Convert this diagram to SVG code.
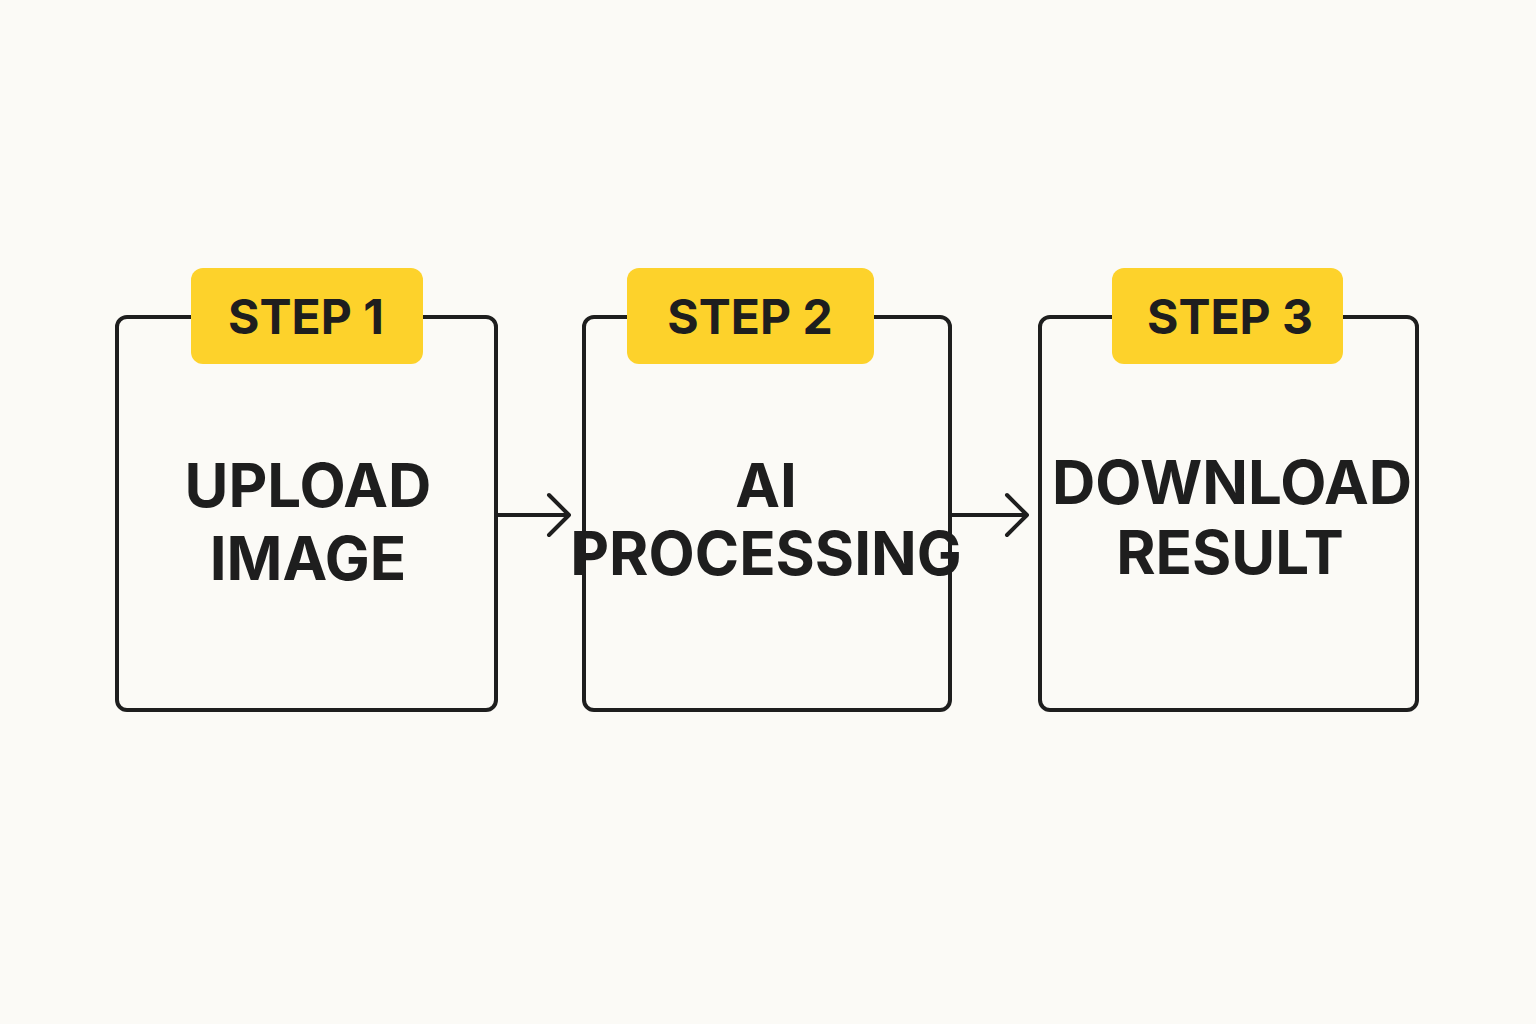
<svg xmlns="http://www.w3.org/2000/svg" width="1536" height="1024" viewBox="0 0 1536 1024">
<style>
.box{fill:#fbfaf6;stroke:#1e1e1e;stroke-width:4}
.tag{fill:#fdd22b}
.t{font-family:Inter,"Liberation Sans",sans-serif;font-weight:700;fill:#1e1e1e;text-anchor:middle}
.tg{font-size:48px}
.m{font-size:60px}
.c{stroke:#1e1e1e;stroke-width:4;fill:none;stroke-linecap:round;stroke-linejoin:round}
</style>
<rect width="1536" height="1024" fill="#fbfaf6"/>
<g id="step1"><rect class="box" x="117" y="317" width="379" height="393" rx="10"/><rect class="tag" x="191" y="268" width="232" height="96" rx="12"/><text class="t tg" x="306" y="334">STEP 1</text><text class="t m" x="308" y="507">UPLOAD</text><text class="t m" x="308" y="580">IMAGE</text></g>
<g id="step2"><rect class="box" x="584" y="317" width="366" height="393" rx="10"/><rect class="tag" x="627" y="268" width="247" height="96" rx="12"/><text class="t tg" x="750" y="334">STEP 2</text><text class="t m" x="766" y="507">AI</text><text class="t m" x="766" y="575">PROCESSING</text></g>
<g id="step3"><rect class="box" x="1040" y="317" width="377" height="393" rx="10"/><rect class="tag" x="1112" y="268" width="231" height="96" rx="12"/><text class="t tg" x="1230" y="334">STEP 3</text><text class="t m" x="1232" y="504">DOWNLOAD</text><text class="t m" x="1230" y="574">RESULT</text></g>
<g id="connectors"><path class="c" d="M498 515H568M549 495L569 515L549 535"/><path class="c" d="M952 515H1026M1007 495L1027 515L1007 535"/></g>
</svg>
